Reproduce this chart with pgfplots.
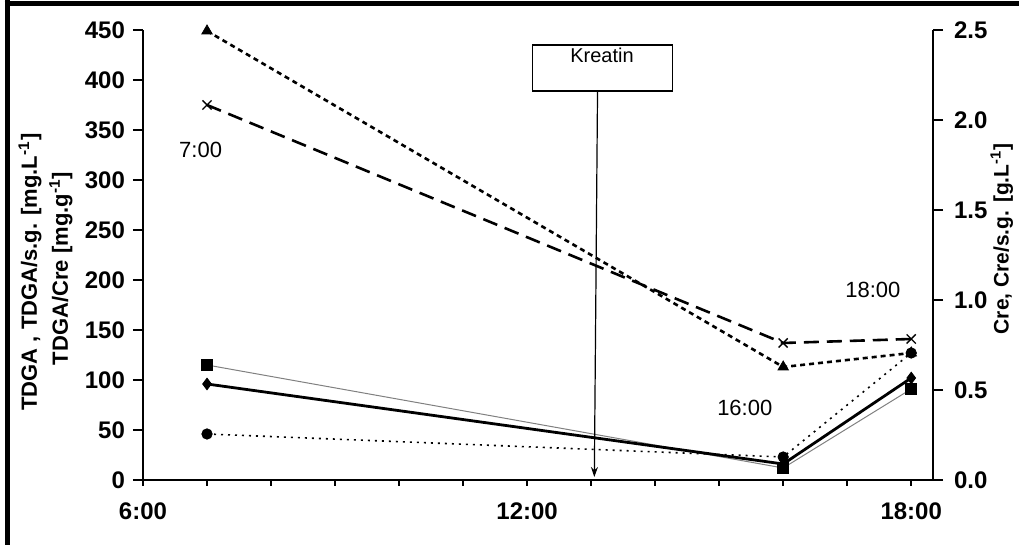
\documentclass[border=0pt]{standalone}
\usepackage{pgfplots}
\pgfplotsset{compat=1.18}
\usepackage{fontspec}
\setmainfont{Liberation Sans}
\usetikzlibrary{arrows.meta}

\begin{document}
\begin{tikzpicture}[x=1pt,y=1pt]
% page: 509.5pt x 272.5pt
\path[use as bounding box] (0,0) rectangle (509.5,272.5);
% frame lines (top and left)
\draw[line width=2.5pt] (3.5,272.5) -- (3.5,0);
\draw[line width=2.5pt] (2.25,270.5) -- (509.5,270.5);

\begin{axis}[
  at={(71.5pt,32.5pt)}, anchor=south west,
  scale only axis, width=395pt, height=225pt,
  xmin=6, xmax=18.34, ymin=0, ymax=450,
  axis y line*=left, axis x line*=bottom,
  axis line style={line width=0.9pt, -},
  tick align=outside,
  xtick={6,7,...,18},
  xticklabels={6:00,,,,,,12:00,,,,,,18:00},
  ytick={0,50,...,450},
  major tick length=5pt,
  xtick style={/pgfplots/major tick length=3pt, line width=0.8pt, black},
  ytick style={line width=0.8pt, black},
  minor tick num=0,
  /pgf/number format/assume math mode=true,
  /pgf/number format/1000 sep={},
  tick label style={font=\fontsize{12}{14}\selectfont\bfseries},
  xticklabel style={yshift=-3pt},
  yticklabel style={xshift=-0.5pt},
  clip=false,
]
% thin grey solid, squares
\addplot[gray, line width=0.5pt, mark=square*, mark size=2.7pt,
  mark options={solid, fill=black, draw=black}]
  coordinates {(7,115) (16,12) (18,91)};
% thick solid, diamonds
\addplot[black, line width=1.4pt, mark=diamond*, mark size=2.9pt,
  mark options={solid, fill=black, line width=0.4pt}]
  coordinates {(7,96) (16,16) (18,102)};
% long dashes, crosses
\addplot[black, line width=1.3pt, dash pattern=on 7.5pt off 4pt,
  mark=x, mark size=3.2pt, mark options={solid, line width=0.7pt}]
  coordinates {(7,375) (16,137) (18,141)};
% short dashes, triangles
\addplot[black, line width=1.3pt, dash pattern=on 2.5pt off 2pt,
  mark=triangle*, mark size=3pt, mark options={solid, line width=0.4pt}]
  coordinates {(7,449) (16,113) (18,127)};
% fine dots, circles
\addplot[black, line width=0.8pt, dash pattern=on 1pt off 2.5pt,
  mark=*, mark size=2.6pt, mark options={solid, line width=0.4pt}]
  coordinates {(7,46) (16,23) (18,127)};

% time annotations
\node[font=\fontsize{11}{13}\selectfont] at (axis cs:6.9,330) {7:00};
\node[font=\fontsize{11}{13}\selectfont] at (axis cs:15.4,72) {16:00};
\node[font=\fontsize{11}{13}\selectfont] at (axis cs:17.4,190) {18:00};

% Kreatin box with arrow
\draw[line width=0.6pt, fill=white] (axis cs:12.08,435) rectangle (axis cs:14.27,389);
\node[font=\fontsize{10}{12}\selectfont] at (axis cs:13.17,425) {Kreatin};
\draw[line width=0.6pt, -{Stealth[length=5pt,width=3.5pt]}]
  (axis cs:13.1,389) -- (axis cs:13.05,3);

% left axis title (two lines)
\node[rotate=90, font=\fontsize{11}{13}\selectfont\bfseries]
  at (axis description cs:-0.143,0.462) {TDGA , TDGA/s.g. [mg.L\textsuperscript{-1}]};
\node[rotate=90, font=\fontsize{11}{13}\selectfont\bfseries]
  at (axis description cs:-0.104,0.47) {TDGA/Cre [mg.g\textsuperscript{-1}]};
\end{axis}

\begin{axis}[
  at={(71.5pt,32.5pt)}, anchor=south west,
  scale only axis, width=395pt, height=225pt,
  xmin=6, xmax=18.34, ymin=0, ymax=2.5,
  axis x line=none, axis y line*=right,
  axis line style={line width=0.9pt, -},
  tick align=outside,
  ytick={0,0.5,...,2.5},
  major tick length=5pt,
  ytick style={line width=0.8pt, black},
  /pgf/number format/assume math mode=true,
  /pgf/number format/.cd, fixed, fixed zerofill, precision=1,
  /pgfplots/.cd,
  yticklabel style={font=\fontsize{12}{14}\selectfont\bfseries, xshift=2pt},
  clip=false,
]
\node[rotate=90, font=\fontsize{10.5}{12}\selectfont\bfseries]
  at (axis description cs:1.087,0.536) {Cre, Cre/s.g. [g.L\textsuperscript{-1}]};
\end{axis}
\end{tikzpicture}
\end{document}
